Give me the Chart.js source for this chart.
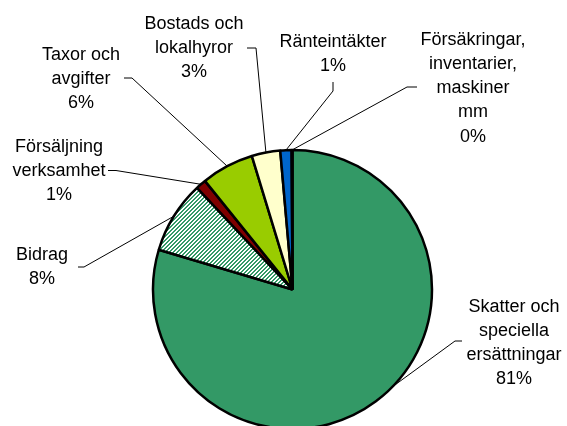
<!DOCTYPE html>
<html>
<head>
<meta charset="utf-8">
<script src="https://cdn.jsdelivr.net/npm/chart.js@4.4.0/dist/chart.umd.min.js"></script>
<style>
  html, body { margin: 0; padding: 0; background: #ffffff; }
  #wrap { width: 567px; height: 426px; }
</style>
</head>
<body>
<div id="wrap"><canvas id="intakter" width="567" height="426"></canvas></div>
<script>
// Intäkter, andel i procent (medurs från kl 12)
const categories = [
    ['Skatter och', 'speciella', 'ersättningar'],
    ['Bidrag'],
    ['Försäljning', 'verksamhet'],
    ['Taxor och', 'avgifter'],
    ['Bostads och', 'lokalhyror'],
    ['Ränteintäkter'],
    ['Försäkringar,', 'inventarier,', 'maskiner', 'mm']
];
const values = [79.6, 8.4, 1.2, 6.1, 3.3, 1.3, 0.1];
const percentLabels = ['81%', '8%', '1%', '6%', '3%', '1%', '0%'];

// Placering av etiketter och hänvisningslinjer (x, y = första radens baslinje)
const labelSpots = [
    { x: 514, y: 311.5, t: 0.468, line: [[462, 341], [455, 341]] },
    { x: 42,  y: 260,   t: 0.5,   line: [[78, 267], [84, 267]] },
    { x: 59,  y: 151.5, t: 0.5,   line: [[108, 170.5], [116, 170.5]] },
    { x: 81,  y: 59.5,  t: 0.5,   line: [[124, 78], [132, 78]] },
    { x: 194, y: 28.5,  t: 0.5,   line: [[247, 48], [256, 48]] },
    { x: 333, y: 46.5,  t: 0.5,   line: [[333, 82], [333, 91]] },
    { x: 473, y: 44.5,  t: 0.5,   line: [[417, 87], [407, 87]] }
];

const canvas = document.getElementById('intakter');
const ctx = canvas.getContext('2d');

// Randigt mönster för "Bidrag"
function makeHatch() {
    const c = document.createElement('canvas');
    c.width = 4;
    c.height = 4;
    const g = c.getContext('2d');
    g.fillStyle = '#ffffff';
    g.fillRect(0, 0, 4, 4);
    g.fillStyle = '#339966';
    for (let y = 0; y < 4; y++) {
        for (let x = 0; x < 4; x++) {
            if ((x + y) % 4 < 2) g.fillRect(x, y, 1, 1);
        }
    }
    return ctx.createPattern(c, 'repeat');
}

const colors = ['#339966', makeHatch(), '#800000', '#99CC00', '#FFFFCC', '#0066CC', '#CCFFFF'];

// Ritar etiketterna med linjer ut till tårtbitarna
const leaderLabels = {
    id: 'leaderLabels',
    afterDatasetsDraw(chart) {
        const c = chart.ctx;
        const arcs = chart.getDatasetMeta(0).data;
        c.save();
        c.strokeStyle = '#000000';
        c.lineWidth = 1;
        c.fillStyle = '#000000';
        c.font = '18px "Liberation Sans", Arial, sans-serif';
        c.textAlign = 'center';
        c.textBaseline = 'alphabetic';
        arcs.forEach((arc, i) => {
            const p = arc.getProps(['x', 'y', 'startAngle', 'endAngle', 'outerRadius'], true);
            const spot = labelSpots[i];
            const a = p.startAngle + (p.endAngle - p.startAngle) * spot.t;
            const ex = p.x + Math.cos(a) * p.outerRadius;
            const ey = p.y + Math.sin(a) * p.outerRadius;
            c.beginPath();
            c.moveTo(spot.line[0][0], spot.line[0][1]);
            for (let k = 1; k < spot.line.length; k++) c.lineTo(spot.line[k][0], spot.line[k][1]);
            c.lineTo(ex, ey);
            c.stroke();

            const lines = categories[i].concat([percentLabels[i]]);
            lines.forEach((s, k) => c.fillText(s, spot.x, spot.y + k * 24.3));
        });
        c.restore();
    }
};

new Chart(ctx, {
    type: 'pie',
    data: {
        labels: categories,
        datasets: [{
            data: values,
            backgroundColor: colors,
            borderColor: '#000000',
            borderWidth: 2.5,
            radius: 139.5,
            clip: false
        }]
    },
    options: {
        responsive: false,
        animation: false,
        events: [],
        radius: 139.5,
        layout: { padding: { left: 18, right: 0, top: 153, bottom: 0 } },
        plugins: {
            legend: { display: false },
            tooltip: { enabled: false }
        }
    },
    plugins: [leaderLabels]
});
</script>
</body>
</html>
